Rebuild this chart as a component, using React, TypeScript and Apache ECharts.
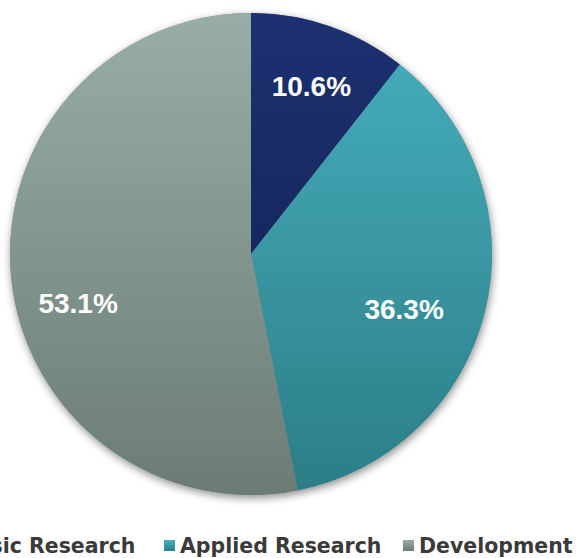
import React, { useEffect, useRef } from "react";
import * as echarts from "echarts";

const categories = ["Basic Research", "Applied Research", "Development"];
const shares = [10.6, 36.3, 53.1];
const topColors = ["#1d3172", "#46b0bd", "#97aea6"];
const bottomColors = ["#0f1e4c", "#2c7d88", "#6b7c75"];
const labelOffsets = [
  [20, -51],
  [33, 27],
  [-50, 37],
];
const legendLefts = [-55, 164, 403];

export default function App() {
  const ref = useRef<HTMLDivElement>(null);
  useEffect(() => {
    if (!ref.current) return;
    const chart = echarts.init(ref.current, null, { renderer: "svg" });
    const cx = 251;
    const cy = 254;
    const r = 241;
    const globalGrad = (i: number) => ({
      type: "linear",
      x: 0,
      y: cy - r,
      x2: 0,
      y2: cy + r,
      global: true,
      colorStops: [
        { offset: 0, color: topColors[i] },
        { offset: 1, color: bottomColors[i] },
      ],
    });
    const localGrad = (i: number) => ({
      type: "linear",
      x: 0,
      y: 0,
      x2: 0,
      y2: 1,
      colorStops: [
        { offset: 0, color: topColors[i] },
        { offset: 1, color: bottomColors[i] },
      ],
    });
    chart.setOption({
      animation: false,
      backgroundColor: "#ffffff",
      legend: categories.map((name, i) => ({
        data: [{ name, itemStyle: { color: localGrad(i) } }],
        left: legendLefts[i],
        top: 535,
        padding: 0,
        icon: "rect",
        itemWidth: 11,
        itemHeight: 11,
        selectedMode: false,
        textStyle: {
          fontFamily: "DejaVu Sans",
          fontWeight: "bold",
          fontSize: 20.5,
          color: "#3a3a3a",
        },
      })),
      series: [
        {
          type: "pie",
          name: "shadow",
          silent: true,
          z: 1,
          center: [cx, cy],
          radius: r,
          label: { show: false },
          labelLine: { show: false },
          itemStyle: {
            color: "#7a8a84",
            shadowBlur: 8,
            shadowOffsetX: 1,
            shadowOffsetY: 3,
            shadowColor: "rgba(0,0,0,0.45)",
          },
          data: [{ value: 1, name: "shadow" }],
        },
        {
          type: "pie",
          name: "R&D",
          z: 2,
          center: [cx, cy],
          radius: r,
          startAngle: 90,
          clockwise: true,
          silent: true,
          itemStyle: { borderWidth: 0 },
          label: {
            show: true,
            position: "inside",
            color: "#ffffff",
            fontFamily: "Liberation Sans",
            fontWeight: "bold",
            fontSize: 28,
            formatter: (p: any) => p.value.toFixed(1) + "%",
          },
          labelLine: { show: false },
          data: categories.map((name, i) => ({
            name,
            value: shares[i],
            itemStyle: { color: globalGrad(i) },
            label: { offset: labelOffsets[i] },
          })),
        },
      ],
    });
    return () => chart.dispose();
  }, []);
  return (
    <div
      ref={ref}
      style={{ position: "absolute", left: 0, top: 0, width: 576, height: 558 }}
    />
  );
}
